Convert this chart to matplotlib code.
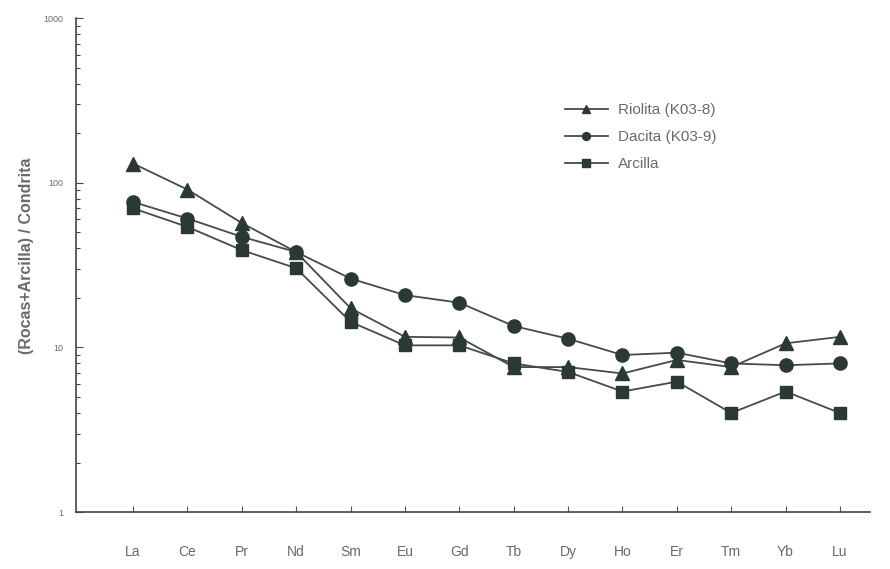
import matplotlib
matplotlib.use("Agg")
import matplotlib.pyplot as plt
from matplotlib.ticker import LogLocator, FixedLocator, NullFormatter, FixedFormatter

elements = ["La", "Ce", "Pr", "Nd", "Sm", "Eu", "Gd", "Tb", "Dy", "Ho", "Er", "Tm", "Yb", "Lu"]
riolita = [131, 91, 57, 38, 17.3, 11.6, 11.5, 7.6, 7.6, 6.95, 8.4, 7.6, 10.6, 11.6]
dacita = [76.5, 60.7, 47, 38, 26.2, 20.8, 18.7, 13.5, 11.3, 9.0, 9.3, 8.0, 7.8, 8.0]
arcilla = [70, 54, 39, 30.3, 14.3, 10.3, 10.3, 8.0, 7.1, 5.4, 6.2, 4.0, 5.4, 4.0]
series_labels = ["Riolita (K03-8)", "Dacita (K03-9)", "Arcilla"]
y_ticks = [1, 10, 100, 1000]
y_ticklabels = ["1", "10", "100", "1000"]

plt.rcParams['font.family'] = ['Liberation Sans', 'DejaVu Sans']

line_c = "#454b48"
mark_c = "#2a3a33"
text_c = "#6a6a6a"

fig = plt.figure(figsize=(8.9, 5.69), dpi=100)
ax = fig.add_axes([0.0854, 0.1, 0.892, 0.868])

x = list(range(len(elements)))
ax.plot(x, riolita, color=line_c, lw=1.3, marker="^", ms=10, mfc=mark_c, mec=mark_c, label=series_labels[0])
ax.plot(x, dacita, color=line_c, lw=1.3, marker="o", ms=9.5, mfc=mark_c, mec=mark_c, label=series_labels[1])
ax.plot(x, arcilla, color=line_c, lw=1.3, marker="s", ms=8.5, mfc=mark_c, mec=mark_c, label=series_labels[2])

ax.set_yscale("log")
ax.set_ylim(1, 1000)
ax.set_xlim(-1.05, 13.55)
ax.yaxis.set_major_locator(FixedLocator(y_ticks))
ax.yaxis.set_major_formatter(FixedFormatter(y_ticklabels))
ax.yaxis.set_minor_locator(LogLocator(base=10, subs=range(2, 10)))
ax.yaxis.set_minor_formatter(NullFormatter())
ax.set_xticks(x)
ax.set_xticklabels(elements)

for s in ["top", "right"]:
    ax.spines[s].set_visible(False)
for s in ["left", "bottom"]:
    ax.spines[s].set_color("#444444")
    ax.spines[s].set_linewidth(1.2)

ax.tick_params(axis="x", direction="in", length=4, width=0.8, color="#555555",
               labelsize=10, labelcolor=text_c, pad=24)
ax.tick_params(axis="y", which="major", direction="in", length=5, width=0.8, color="#444444",
               labelsize=6.5, labelcolor=text_c, pad=9)
ax.tick_params(axis="y", which="minor", direction="in", length=3, width=0.8, color="#444444")

ax.set_ylabel("(Rocas+Arcilla) / Condrita", fontsize=11.5, fontweight="bold", color=text_c)
ax.yaxis.set_label_coords(-0.053, 0.52)

leg = ax.legend(loc="upper left", bbox_to_anchor=(565 / 890, 1 - 103 / 569),
                bbox_transform=fig.transFigure, frameon=False, fontsize=11,
                handlelength=2.8, markerscale=0.6, labelspacing=0.85, handletextpad=0.65,
                borderpad=0, borderaxespad=0)
for t in leg.get_texts():
    t.set_color(text_c)

fig.savefig("out.png", dpi=100, facecolor="white")
